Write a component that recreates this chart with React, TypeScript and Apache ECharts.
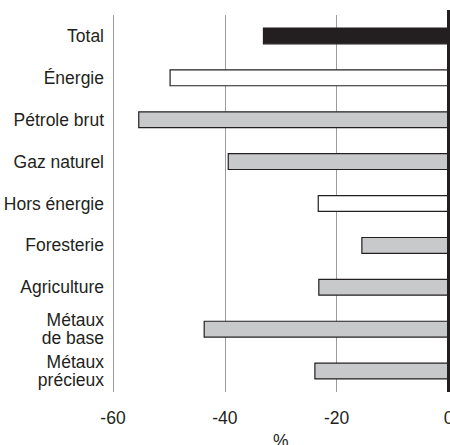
import React, { useEffect, useRef } from "react";
import * as echarts from "echarts";

const categories = [
  "Total",
  "Énergie",
  "Pétrole brut",
  "Gaz naturel",
  "Hors énergie",
  "Foresterie",
  "Agriculture",
  "Métaux\nde base",
  "Métaux\nprécieux",
];
const values = [-33.2, -49.9, -55.5, -39.5, -23.4, -15.6, -23.3, -43.8, -24.0];
const fills = ["#231f20", "#ffffff", "#c8c9cb", "#c8c9cb", "#ffffff", "#c8c9cb", "#c8c9cb", "#c8c9cb", "#c8c9cb"];
const xTicks = [-60, -40, -20, 0];

export default function App() {
  const ref = useRef<HTMLDivElement>(null);
  useEffect(() => {
    if (!ref.current) return;
    const chart = echarts.init(ref.current, null, { renderer: "svg" });
    const font = "'Liberation Sans', Arial, Helvetica, sans-serif";
    chart.setOption({
      animation: false,
      grid: {
        left: 113,
        right: 1.5,
        top: 15,
        bottom: 53,
        containLabel: false,
        outerBoundsMode: "none",
      },
      xAxis: {
        type: "value",
        min: xTicks[0],
        max: xTicks[xTicks.length - 1],
        interval: 20,
        name: "%",
        nameLocation: "middle",
        nameGap: 36,
        nameTextStyle: { fontFamily: font, fontSize: 17.5, color: "#231f20" },
        axisLine: { show: false },
        axisTick: { show: false },
        axisLabel: { fontFamily: font, fontSize: 17.5, color: "#231f20", margin: 17 },
        splitLine: { show: true, lineStyle: { color: "#9a9ca0", width: 1 } },
      },
      yAxis: {
        type: "category",
        data: categories,
        inverse: true,
        position: "left",
        axisLine: { show: false },
        axisTick: { show: false },
        axisLabel: {
          fontFamily: font,
          fontSize: 17.5,
          lineHeight: 18,
          color: "#231f20",
          align: "right",
          margin: 9,
        },
        splitLine: { show: false },
      },
      series: [
        {
          type: "bar",
          barWidth: 17,
          data: values.map((v, i) => ({
            value: v,
            itemStyle: { color: fills[i], borderColor: "#231f20", borderWidth: 1.2 },
          })),
          markLine: {
            silent: true,
            symbol: "none",
            label: { show: false },
            lineStyle: { color: "#231f20", width: 3, type: "solid" },
            data: [{ xAxis: 0 }],
          },
        },
      ],
      graphic: [
        {
          type: "line",
          shape: { x1: 448.5, y1: 10, x2: 448.5, y2: 16 },
          style: { stroke: "#231f20", lineWidth: 3 },
        },
      ],
    });
    return () => chart.dispose();
  }, []);
  return <div ref={ref} style={{ width: 450, height: 445, position: "absolute", left: 0, top: 0 }} />;
}
